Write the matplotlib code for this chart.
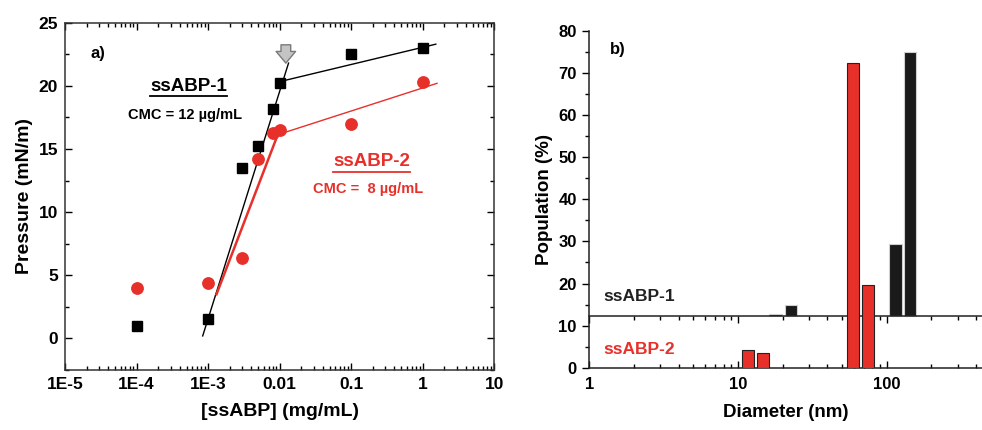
import numpy as np
import matplotlib
matplotlib.use("Agg")
import matplotlib.pyplot as plt
from matplotlib.lines import Line2D
from matplotlib.ticker import LogLocator, MultipleLocator, FixedLocator, NullFormatter

plt.rcParams['font.family'] = ['Liberation Sans', 'DejaVu Sans']
plt.rcParams['font.weight'] = 'bold'

RED = '#e8302a'

# panel a: surface pressure vs concentration
conc = [1e-4, 1e-3, 3e-3, 5e-3, 8e-3, 1e-2, 0.1, 1.0]
press_1 = [1.0, 1.5, 13.5, 15.2, 18.2, 20.2, 22.5, 23.0]
press_2 = [4.0, 4.4, 6.4, 14.2, 16.3, 16.5, 17.0, 20.3]

# fitted line segments (end points, mg/mL and mN/m)
fit1_low_x, fit1_low_y = [8.4e-4, 1.33e-2], [0.2, 21.8]
fit1_high_x, fit1_high_y = [1.22e-2, 1.52], [20.45, 23.3]
fit2_low_x, fit2_low_y = [1.31e-3, 9.35e-3], [3.5, 16.1]
fit2_high_x, fit2_high_y = [1.16e-2, 1.58], [16.3, 20.2]
cmc_arrow = (1.22e-2, 23.25, 21.8)

# panel b: DLS size distribution
diam_1 = [17.9, 22.7, 115.0, 144.0]
pop_1 = [12.75, 14.95, 29.5, 75.0]
diam_2 = [11.7, 14.7, 59.5, 75.3]
pop_2 = [4.3, 3.5, 72.3, 19.7]
offset_1 = 12.3

fig = plt.figure(figsize=(9.82, 4.30), dpi=100)


def underlined(ax, x, y, s, color, size):
    t = ax.text(x, y, s, fontsize=size, fontweight='bold', ha='center',
                va='center', color=color)
    fig.canvas.draw()
    bb = t.get_window_extent()
    inv = fig.transFigure.inverted()
    (x0, y0), (x1, _) = inv.transform([(bb.x0, bb.y0 - 1.5), (bb.x1, bb.y0)])
    fig.add_artist(Line2D([x0, x1], [y0, y0], color=color, lw=1.3))
    return t


# ---------------- panel a ----------------
ax = fig.add_axes([0.0662, 0.1395, 0.4372, 0.8077])
ax.set_xscale('log')
ax.set_xlim(1e-5, 10)
ax.set_ylim(-2.5, 25)

ax.plot(fit1_low_x, fit1_low_y, color='black', lw=1.0, zorder=2)
ax.plot(fit1_high_x, fit1_high_y, color='black', lw=1.0, zorder=2)
ax.plot(fit2_low_x, fit2_low_y, color=RED, lw=1.8, zorder=2)
ax.plot(fit2_high_x, fit2_high_y, color=RED, lw=1.0, zorder=2)

ax.plot(conc, press_1, 's', color='black', ms=7.2, zorder=3)
ax.plot(conc, press_2, 'o', color=RED, ms=8.2, mec=RED, zorder=3)

ax.annotate('', xy=(cmc_arrow[0], cmc_arrow[2]), xytext=(cmc_arrow[0], cmc_arrow[1]),
            arrowprops=dict(arrowstyle='simple,head_width=1.0,head_length=0.6,tail_width=0.5',
                            mutation_scale=14, shrinkA=0, shrinkB=0,
                            fc='#c4c4c4', ec='#7a7a7a', lw=1.0), zorder=4)

ax.text(2.3e-5, 22.6, 'a)', fontsize=12, fontweight='bold', ha='left', va='center')
underlined(ax, 5.3e-4, 19.95, 'ssABP-1', 'black', 13.5)
ax.text(4.8e-4, 17.7, 'CMC = 12 \u00b5g/mL', fontsize=10.5, fontweight='bold', ha='center',
        va='center', color='black')
underlined(ax, 0.192, 14.0, 'ssABP-2', RED, 13.5)
ax.text(0.172, 11.8, 'CMC =  8 \u00b5g/mL', fontsize=10.5, fontweight='bold', ha='center',
        va='center', color=RED)

ax.set_xticks([1e-5, 1e-4, 1e-3, 1e-2, 0.1, 1, 10])
ax.set_xticklabels(['1E-5', '1E-4', '1E-3', '0.01', '0.1', '1', '10'])
ax.xaxis.set_minor_locator(LogLocator(base=10, subs=np.arange(2, 10), numticks=20))
ax.xaxis.set_minor_formatter(NullFormatter())
ax.yaxis.set_major_locator(FixedLocator([0, 5, 10, 15, 20, 25]))
ax.yaxis.set_minor_locator(MultipleLocator(2.5))
ax.tick_params(which='both', direction='in', top=True, right=True, width=1.0)
ax.tick_params(which='major', length=5, labelsize=12.5, pad=5)
ax.tick_params(which='minor', length=3)
for lab in ax.get_xticklabels() + ax.get_yticklabels():
    lab.set_fontweight('bold')
for sp in ax.spines.values():
    sp.set_linewidth(1.1)
    sp.set_color('#333333')
ax.set_xlabel('[ssABP] (mg/mL)', fontsize=14, fontweight='bold', labelpad=8)
ax.set_ylabel('Pressure (mN/m)', fontsize=14, fontweight='bold', labelpad=4)

# ---------------- panel b ----------------
bx = fig.add_axes([0.6001, 0.1449, 0.3999, 0.7830])
bx.set_xscale('log')
bx.set_xlim(1, 438)
bx.set_ylim(0, 80)

half = 10 ** 0.0415
d1 = np.array(diam_1)
d2 = np.array(diam_2)
bx.bar(d1 / half, np.array(pop_1) - offset_1, width=d1 * half - d1 / half,
       bottom=offset_1, align='edge', color='#1a1a1a', edgecolor='#d0d0d0', lw=0.8, zorder=2)
bx.bar(d2 / half, pop_2, width=d2 * half - d2 / half, align='edge',
       color=RED, edgecolor='#222222', lw=0.8, zorder=4)

bx.text(1.25, 17.0, 'ssABP-1', fontsize=12.5, fontweight='bold', color='#222222',
        ha='left', va='center')
bx.text(1.25, 4.3, 'ssABP-2', fontsize=12.5, fontweight='bold', color=RED,
        ha='left', va='center')
bx.text(1.38, 75.5, 'b)', fontsize=12, fontweight='bold', ha='left', va='center')

bx.spines['right'].set_visible(False)
bx.spines['top'].set_position(('data', offset_1))
for sp in bx.spines.values():
    sp.set_linewidth(1.1)
    sp.set_color('#222222')
bx.set_xticks([1, 10, 100])
bx.set_xticklabels(['1', '10', '100'])
bx.xaxis.set_minor_locator(LogLocator(base=10, subs=np.arange(2, 10), numticks=20))
bx.xaxis.set_minor_formatter(NullFormatter())
bx.yaxis.set_major_locator(MultipleLocator(10))
bx.yaxis.set_minor_locator(MultipleLocator(5))
bx.tick_params(axis='x', which='both', direction='in', top=True, bottom=True,
               labeltop=False, width=1.0)
bx.tick_params(axis='y', which='both', direction='out', right=False, width=1.0)
bx.tick_params(which='major', length=5, labelsize=12, pad=4)
bx.tick_params(which='minor', length=3)
bx.tick_params(axis='x', which='major', pad=7)
for lab in bx.get_xticklabels() + bx.get_yticklabels():
    lab.set_fontweight('bold')
bx.set_xlabel('Diameter (nm)', fontsize=13.5, fontweight='bold', labelpad=8)
bx.set_ylabel('Population (%)', fontsize=13.5, fontweight='bold', labelpad=4)

fig.savefig('out.png', dpi=100)
